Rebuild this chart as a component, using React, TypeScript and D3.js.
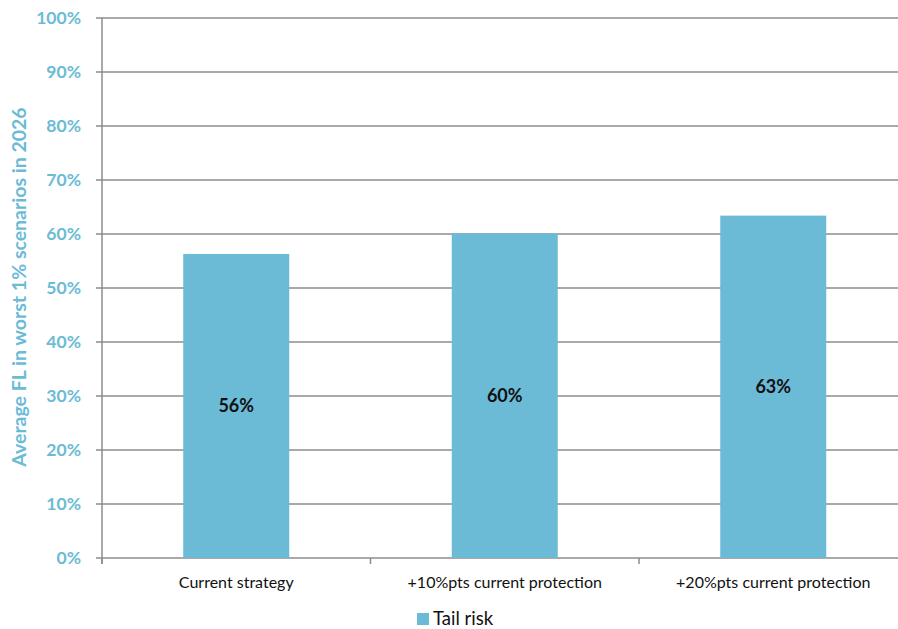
import React from "react";
import * as d3 from "d3";

const categories = ["Current strategy", "+10%pts current protection", "+20%pts current protection"];
const tailRisk = [0.563, 0.601, 0.634];
const valueLabels = ["56%", "60%", "63%"];
const yTicks = [0, 0.1, 0.2, 0.3, 0.4, 0.5, 0.6, 0.7, 0.8, 0.9, 1.0];
const seriesName = "Tail risk";
const yTitle = "Average FL in worst 1% scenarios in 2026";

const W = 898;
const H = 629;
const left = 102;
const top = 18;
const bottom = 558;
const bandW = 268.5;
const right = left + bandW * categories.length;

const BLUE = "#6bbbd6";
const GRID = "#8c8c8c";
const FONT = "Lato, 'Open Sans', 'Liberation Sans', sans-serif";

export default function App() {
  const y = d3.scaleLinear().domain([0, 1]).range([bottom, top]);
  const fmt = d3.format(".0%");
  const bw = 106;
  const bounds = [left, ...categories.map((_, i) => left + bandW * (i + 1))];

  return (
    <svg width={W} height={H} style={{ position: "absolute", left: 0, top: 0, background: "#fff" }} fontFamily={FONT}>
      {yTicks.map((t) => (
        <g key={t}>
          <line x1={left - 6} x2={right} y1={y(t)} y2={y(t)} stroke={GRID} strokeWidth={1.5} />
          <text x={81} y={y(t)} dy="0.35em" textAnchor="end" fill={BLUE} fontWeight="bold" fontSize={17.5}>
            {fmt(t)}
          </text>
        </g>
      ))}
      <line x1={left} x2={left} y1={top} y2={bottom + 6} stroke={GRID} strokeWidth={1.5} />
      {bounds.map((b, i) => (
        <line key={i} x1={b} x2={b} y1={bottom} y2={bottom + 6} stroke={GRID} strokeWidth={1.5} />
      ))}
      {categories.map((c, i) => {
        const cx = left + bandW * (i + 0.5);
        const yv = y(tailRisk[i]);
        return (
          <g key={c}>
            <rect x={cx - bw / 2} y={yv} width={bw} height={bottom - yv} fill={BLUE} />
            <text x={cx} y={(yv + bottom) / 2} dy="0.35em" textAnchor="middle" fontWeight="bold" fontSize={18} fill="#111">
              {valueLabels[i]}
            </text>
            <text x={cx} y={582} dy="0.35em" textAnchor="middle" fontSize={16} fill="#111">
              {c}
            </text>
          </g>
        );
      })}
      <text
        transform={`translate(19, ${287}) rotate(-90)`}
        textAnchor="middle"
        dy="0.35em"
        fill={BLUE}
        fontWeight="bold"
        fontSize={19.5}
      >
        {yTitle}
      </text>
      <rect x={417} y={613} width={12} height={12} fill={BLUE} />
      <text x={433} y={619} dy="0.35em" fontSize={18.5} fill="#111">
        {seriesName}
      </text>
    </svg>
  );
}
